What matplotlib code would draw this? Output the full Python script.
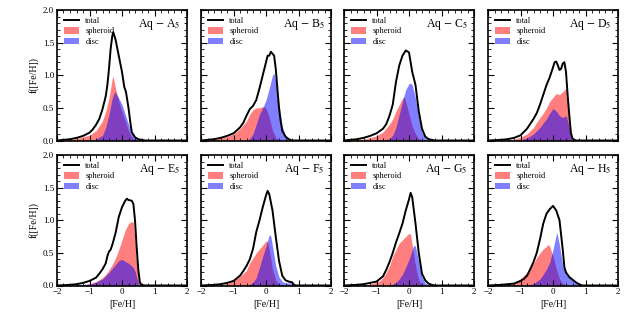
"""
Metallicity distribution functions f([Fe/H]) for the Aquarius level-5 haloes,
split into spheroid and disc components.
"""
import matplotlib
matplotlib.use("Agg")
import matplotlib.pyplot as plt
import numpy as np
from matplotlib.ticker import MultipleLocator, FormatStrFormatter

plt.rcParams["font.family"] = ["Liberation Serif", "DejaVu Serif"]
plt.rcParams["mathtext.fontset"] = "stix"

HALOES = ["A", "B", "C", "D", "E", "F", "G", "H"]

# (x, y) pairs, one list per halo and component
A_TOTAL = [(-2.0, 0), (-1.8, 0.01), (-1.6, 0.02), (-1.4, 0.04), (-1.2, 0.07), (-1.0, 0.12), (-0.9, 0.17),
           (-0.8, 0.24), (-0.7, 0.33), (-0.6, 0.48), (-0.5, 0.68), (-0.45, 0.85), (-0.4, 1.1), (-0.35, 1.4),
           (-0.3, 1.6), (-0.27, 1.66), (-0.2, 1.55), (-0.1, 1.3), (0.0, 1.05), (0.07, 0.82), (0.12, 0.75),
           (0.2, 0.5), (0.25, 0.3), (0.3, 0.13), (0.4, 0.05), (0.5, 0.02), (0.7, 0.0), (2.0, 0)]
A_SPHEROID = [(-2.0, 0), (-1.5, 0.02), (-1.0, 0.08), (-0.8, 0.15), (-0.6, 0.3), (-0.5, 0.45), (-0.4, 0.65),
              (-0.3, 0.95), (-0.27, 0.98), (-0.2, 0.8), (-0.1, 0.6), (0.0, 0.45), (0.1, 0.3), (0.2, 0.15),
              (0.3, 0.05), (0.4, 0.01), (0.5, 0.0), (2.0, 0)]
A_DISC = [(-2.0, 0), (-1.0, 0.0), (-0.8, 0.02), (-0.6, 0.08), (-0.5, 0.2), (-0.4, 0.4), (-0.3, 0.65),
          (-0.22, 0.75), (-0.1, 0.65), (0.0, 0.55), (0.1, 0.4), (0.2, 0.25), (0.3, 0.1), (0.4, 0.04),
          (0.5, 0.01), (0.6, 0.0), (2.0, 0)]

B_TOTAL = [(-2.0, 0), (-1.8, 0.01), (-1.6, 0.02), (-1.4, 0.04), (-1.2, 0.07), (-1.0, 0.11), (-0.8, 0.2),
           (-0.7, 0.27), (-0.6, 0.38), (-0.5, 0.48), (-0.4, 0.53), (-0.3, 0.62), (-0.2, 0.8), (-0.1, 1.0),
           (0.0, 1.2), (0.05, 1.3), (0.1, 1.3), (0.15, 1.36), (0.2, 1.33), (0.25, 1.3), (0.3, 1.1),
           (0.35, 0.8), (0.4, 0.5), (0.45, 0.3), (0.5, 0.15), (0.6, 0.06), (0.7, 0.02), (0.8, 0.0), (2.0, 0)]
B_SPHEROID = [(-2.0, 0), (-1.6, 0.02), (-1.2, 0.06), (-1.0, 0.1), (-0.8, 0.18), (-0.6, 0.3), (-0.5, 0.4),
              (-0.4, 0.47), (-0.3, 0.5), (-0.2, 0.5), (-0.1, 0.52), (0.0, 0.5), (0.1, 0.35), (0.2, 0.15),
              (0.3, 0.05), (0.4, 0.01), (0.5, 0.0), (2.0, 0)]
B_DISC = [(-2.0, 0), (-0.6, 0.0), (-0.5, 0.03), (-0.4, 0.1), (-0.3, 0.25), (-0.2, 0.4), (-0.1, 0.5),
          (0.0, 0.62), (0.1, 0.8), (0.2, 1.0), (0.25, 1.03), (0.3, 0.9), (0.4, 0.55), (0.5, 0.22),
          (0.6, 0.06), (0.7, 0.01), (0.8, 0.0), (2.0, 0)]

C_TOTAL = [(-2.0, 0), (-1.6, 0.02), (-1.4, 0.04), (-1.2, 0.07), (-1.0, 0.11), (-0.8, 0.18), (-0.7, 0.25),
           (-0.6, 0.38), (-0.5, 0.55), (-0.4, 0.9), (-0.3, 1.15), (-0.2, 1.3), (-0.1, 1.38), (0.0, 1.35),
           (0.1, 1.05), (0.2, 0.85), (0.3, 0.45), (0.4, 0.18), (0.5, 0.06), (0.6, 0.02), (0.8, 0.0), (2.0, 0)]
C_SPHEROID = [(-2.0, 0), (-1.4, 0.02), (-1.0, 0.07), (-0.8, 0.13), (-0.6, 0.25), (-0.5, 0.33), (-0.4, 0.45),
              (-0.3, 0.55), (-0.2, 0.65), (-0.15, 0.67), (-0.1, 0.6), (0.0, 0.4), (0.1, 0.22), (0.2, 0.1),
              (0.3, 0.03), (0.4, 0.0), (2.0, 0)]
C_DISC = [(-2.0, 0), (-0.8, 0.0), (-0.6, 0.03), (-0.5, 0.08), (-0.4, 0.2), (-0.3, 0.4), (-0.2, 0.6),
          (-0.1, 0.78), (0.0, 0.87), (0.05, 0.88), (0.1, 0.85), (0.2, 0.65), (0.3, 0.35), (0.4, 0.12),
          (0.5, 0.04), (0.6, 0.01), (0.7, 0.0), (2.0, 0)]

D_TOTAL = [(-2.0, 0), (-1.6, 0.01), (-1.4, 0.02), (-1.2, 0.04), (-1.0, 0.08), (-0.8, 0.18), (-0.6, 0.33),
           (-0.5, 0.42), (-0.4, 0.55), (-0.3, 0.7), (-0.2, 0.85), (-0.1, 0.97), (0.0, 1.12), (0.05, 1.2),
           (0.1, 1.21), (0.15, 1.15), (0.2, 1.08), (0.25, 1.1), (0.3, 1.18), (0.35, 1.2), (0.4, 1.05),
           (0.45, 0.7), (0.5, 0.4), (0.55, 0.12), (0.6, 0.03), (0.7, 0.0), (2.0, 0)]
D_SPHEROID = [(-2.0, 0), (-1.4, 0.01), (-1.2, 0.02), (-1.0, 0.05), (-0.8, 0.1), (-0.6, 0.2), (-0.5, 0.28),
              (-0.4, 0.35), (-0.3, 0.42), (-0.2, 0.5), (-0.1, 0.6), (0.0, 0.66), (0.1, 0.72), (0.2, 0.7),
              (0.3, 0.75), (0.4, 0.8), (0.45, 0.6), (0.5, 0.3), (0.55, 0.08), (0.6, 0.0), (2.0, 0)]
D_DISC = [(-2.0, 0), (-1.0, 0.01), (-0.8, 0.04), (-0.6, 0.1), (-0.4, 0.2), (-0.3, 0.27), (-0.2, 0.33),
          (-0.1, 0.42), (0.0, 0.49), (0.1, 0.45), (0.2, 0.38), (0.3, 0.35), (0.4, 0.38), (0.45, 0.3),
          (0.5, 0.18), (0.55, 0.05), (0.6, 0.0), (2.0, 0)]

E_TOTAL = [(-2.0, 0), (-1.6, 0.01), (-1.4, 0.02), (-1.2, 0.04), (-1.0, 0.07), (-0.8, 0.12), (-0.7, 0.18),
           (-0.6, 0.25), (-0.5, 0.34), (-0.45, 0.45), (-0.4, 0.52), (-0.35, 0.55), (-0.3, 0.62), (-0.2, 0.8),
           (-0.1, 1.05), (0.0, 1.2), (0.1, 1.3), (0.15, 1.33), (0.2, 1.31), (0.3, 1.3), (0.35, 1.25),
           (0.4, 1.0), (0.45, 0.6), (0.5, 0.25), (0.55, 0.05), (0.6, 0.01), (0.7, 0.0), (2.0, 0)]
E_SPHEROID = [(-2.0, 0), (-1.2, 0.01), (-1.0, 0.03), (-0.8, 0.06), (-0.6, 0.12), (-0.5, 0.17), (-0.4, 0.24),
              (-0.3, 0.32), (-0.2, 0.42), (-0.1, 0.55), (0.0, 0.7), (0.1, 0.85), (0.2, 0.95), (0.3, 0.98),
              (0.35, 0.97), (0.4, 0.7), (0.45, 0.35), (0.5, 0.1), (0.55, 0.01), (0.6, 0.0), (2.0, 0)]
E_DISC = [(-2.0, 0), (-1.0, 0.02), (-0.8, 0.05), (-0.6, 0.1), (-0.5, 0.15), (-0.4, 0.2), (-0.3, 0.26),
          (-0.2, 0.32), (-0.1, 0.38), (0.0, 0.4), (0.1, 0.37), (0.2, 0.34), (0.3, 0.3), (0.35, 0.27),
          (0.4, 0.22), (0.45, 0.13), (0.5, 0.04), (0.55, 0.0), (2.0, 0)]

F_TOTAL = [(-2.0, 0), (-1.6, 0.01), (-1.4, 0.02), (-1.2, 0.04), (-1.0, 0.07), (-0.8, 0.15), (-0.7, 0.22),
           (-0.6, 0.3), (-0.5, 0.4), (-0.4, 0.56), (-0.3, 0.82), (-0.2, 1.0), (-0.1, 1.2), (0.0, 1.38),
           (0.05, 1.45), (0.1, 1.4), (0.2, 1.15), (0.3, 0.75), (0.4, 0.38), (0.5, 0.15), (0.6, 0.08),
           (0.7, 0.06), (0.8, 0.05), (0.85, 0.02), (0.9, 0.0), (2.0, 0)]
F_SPHEROID = [(-2.0, 0), (-1.4, 0.01), (-1.2, 0.03), (-1.0, 0.07), (-0.8, 0.14), (-0.6, 0.23), (-0.5, 0.35),
              (-0.4, 0.42), (-0.3, 0.5), (-0.2, 0.56), (-0.1, 0.62), (0.0, 0.68), (0.05, 0.68), (0.1, 0.55),
              (0.2, 0.25), (0.3, 0.08), (0.4, 0.02), (0.5, 0.0), (2.0, 0)]
F_DISC = [(-2.0, 0), (-0.6, 0.0), (-0.5, 0.02), (-0.4, 0.05), (-0.3, 0.12), (-0.2, 0.28), (-0.1, 0.45),
          (0.0, 0.6), (0.1, 0.78), (0.15, 0.75), (0.2, 0.6), (0.3, 0.3), (0.4, 0.13), (0.5, 0.06),
          (0.6, 0.04), (0.7, 0.04), (0.8, 0.04), (0.85, 0.01), (0.9, 0.0), (2.0, 0)]

G_TOTAL = [(-2.0, 0), (-1.6, 0.01), (-1.4, 0.02), (-1.2, 0.04), (-1.0, 0.06), (-0.9, 0.1), (-0.8, 0.14),
           (-0.7, 0.24), (-0.6, 0.36), (-0.5, 0.5), (-0.4, 0.66), (-0.3, 0.8), (-0.2, 0.95), (-0.1, 1.15),
           (0.0, 1.32), (0.05, 1.42), (0.1, 1.35), (0.2, 0.95), (0.3, 0.5), (0.4, 0.18), (0.5, 0.08),
           (0.6, 0.03), (0.7, 0.01), (0.8, 0.0), (2.0, 0)]
G_SPHEROID = [(-2.0, 0), (-1.4, 0.01), (-1.2, 0.02), (-1.0, 0.05), (-0.9, 0.07), (-0.8, 0.12), (-0.7, 0.2),
              (-0.6, 0.3), (-0.5, 0.45), (-0.4, 0.55), (-0.3, 0.65), (-0.2, 0.7), (-0.1, 0.75), (0.0, 0.8),
              (0.05, 0.78), (0.1, 0.62), (0.2, 0.3), (0.3, 0.08), (0.4, 0.02), (0.5, 0.0), (2.0, 0)]
G_DISC = [(-2.0, 0), (-0.6, 0.0), (-0.5, 0.02), (-0.4, 0.05), (-0.3, 0.1), (-0.2, 0.17), (-0.1, 0.28),
          (0.0, 0.4), (0.1, 0.55), (0.15, 0.62), (0.2, 0.6), (0.3, 0.35), (0.4, 0.13), (0.5, 0.04),
          (0.6, 0.01), (0.7, 0.0), (2.0, 0)]

H_TOTAL = [(-2.0, 0), (-1.6, 0.01), (-1.4, 0.02), (-1.2, 0.03), (-1.0, 0.07), (-0.9, 0.1), (-0.8, 0.15),
           (-0.7, 0.25), (-0.6, 0.36), (-0.5, 0.5), (-0.4, 0.71), (-0.3, 0.95), (-0.2, 1.1), (-0.1, 1.17),
           (0.0, 1.22), (0.1, 1.15), (0.2, 1.0), (0.3, 0.55), (0.35, 0.28), (0.4, 0.2), (0.5, 0.13),
           (0.6, 0.09), (0.7, 0.05), (0.8, 0.02), (0.9, 0.0), (2.0, 0)]
H_SPHEROID = [(-2.0, 0), (-1.6, 0.01), (-1.4, 0.02), (-1.2, 0.05), (-1.0, 0.1), (-0.9, 0.15), (-0.8, 0.2),
              (-0.7, 0.27), (-0.6, 0.34), (-0.5, 0.43), (-0.4, 0.5), (-0.3, 0.56), (-0.2, 0.6), (-0.15, 0.63),
              (-0.1, 0.6), (0.0, 0.45), (0.1, 0.25), (0.2, 0.1), (0.3, 0.03), (0.4, 0.01), (0.5, 0.0), (2.0, 0)]
H_DISC = [(-2.0, 0), (-0.8, 0.0), (-0.6, 0.03), (-0.4, 0.1), (-0.3, 0.17), (-0.2, 0.25), (-0.1, 0.36),
          (0.0, 0.55), (0.1, 0.78), (0.12, 0.81), (0.2, 0.62), (0.3, 0.3), (0.4, 0.17), (0.5, 0.12),
          (0.6, 0.08), (0.7, 0.04), (0.8, 0.01), (0.9, 0.0), (2.0, 0)]

CURVES = {
    "A": (A_TOTAL, A_SPHEROID, A_DISC), "B": (B_TOTAL, B_SPHEROID, B_DISC),
    "C": (C_TOTAL, C_SPHEROID, C_DISC), "D": (D_TOTAL, D_SPHEROID, D_DISC),
    "E": (E_TOTAL, E_SPHEROID, E_DISC), "F": (F_TOTAL, F_SPHEROID, F_DISC),
    "G": (G_TOTAL, G_SPHEROID, G_DISC), "H": (H_TOTAL, H_SPHEROID, H_DISC),
}


def xy(pairs):
    arr = np.asarray(pairs, dtype=float)
    return arr[:, 0], arr[:, 1]


fig = plt.figure(figsize=(6.34, 3.17), dpi=100)
W, H = 634.0, 317.0
lefts = [57, 201, 344, 488]
tops = [10, 155]
pw, ph = 130, 130.5

for i, halo in enumerate(HALOES):
    row, col = divmod(i, 4)
    ax = fig.add_axes([lefts[col] / W, 1 - (tops[row] + ph) / H, pw / W, ph / H])
    tot, sph, dsc = CURVES[halo]

    ax.fill_between(*xy(sph), color="red", alpha=0.5, lw=0, label="spheroid")
    ax.fill_between(*xy(dsc), color="blue", alpha=0.5, lw=0, label="disc")
    ax.plot(*xy(tot), color="black", lw=1.4, label="total")

    ax.set_xlim(-2, 2)
    ax.set_ylim(0, 2)
    ax.xaxis.set_major_locator(MultipleLocator(1))
    ax.xaxis.set_minor_locator(MultipleLocator(0.2))
    ax.yaxis.set_major_locator(MultipleLocator(0.5))
    ax.yaxis.set_minor_locator(MultipleLocator(0.1))
    ax.tick_params(which="both", direction="in", top=True, right=True, labelsize=6.5, pad=2)
    ax.tick_params(which="major", length=4, width=0.8)
    ax.tick_params(which="minor", length=2, width=0.6)
    for sp in ax.spines.values():
        sp.set_linewidth(1.2)

    if col == 0:
        ax.set_ylabel("f([Fe/H])", fontsize=7, labelpad=3)
        ax.yaxis.set_major_formatter(FormatStrFormatter("%.1f"))
    else:
        ax.set_yticklabels([])
    if row == 1:
        ax.set_xlabel("[Fe/H]", fontsize=7, labelpad=3)
    else:
        ax.set_xticklabels([])

    ax.text(0.95, 0.95, rf"Aq $-$ {halo}$_5$", transform=ax.transAxes,
            ha="right", va="top", fontsize=8.5)

    handles, labels = ax.get_legend_handles_labels()
    order = [labels.index(k) for k in ("total", "spheroid", "disc")]
    ax.legend([handles[k] for k in order], [labels[k] for k in order],
              loc="upper left", fontsize=6, frameon=False, handlelength=1.8,
              handleheight=0.8, labelspacing=0.3, borderaxespad=0.4, handletextpad=0.8)

fig.savefig("out.png", dpi=100)
